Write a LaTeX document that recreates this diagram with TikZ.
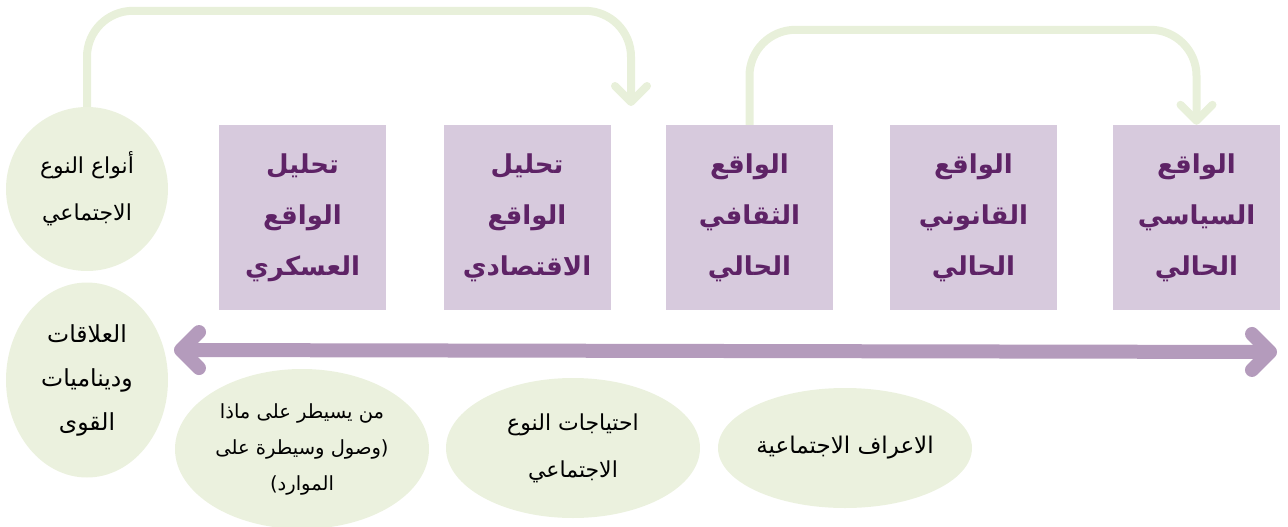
\documentclass[tikz,border=0pt]{standalone}
\usepackage{fontspec}
\newfontfamily\arabicfont[Script=Arabic]{DejaVu Sans}
\TeXXeTstate=1
\usetikzlibrary{arrows.meta,shapes.geometric}
\definecolor{boxfill}{RGB}{215,202,221}
\definecolor{boxtext}{RGB}{94,35,102}
\definecolor{ovalfill}{RGB}{235,241,222}
\definecolor{loopline}{RGB}{232,240,218}
\definecolor{spanline}{RGB}{180,155,188}
\newcommand{\artxt}[1]{\beginR #1\endR}

\begin{document}
\begin{tikzpicture}[x=1pt, y=-1pt,
		realbox/.style={fill=boxfill, text=boxtext, minimum width=167pt, minimum height=185pt, inner sep=0pt, align=center,
			font=\arabicfont\bfseries\fontsize{26}{51}\selectfont},
		oval/.style={ellipse, fill=ovalfill, inner sep=0pt, align=center,
			font=\arabicfont\fontsize{22}{47}\selectfont},
		loop arrow/.style={draw=loopline, line width=8pt, rounded corners=46pt,
			-{Straight Barb[length=16pt, width=32pt, round]}},
		span arrow/.style={draw=spanline, line width=14pt,
			{Straight Barb[length=18pt, width=36pt, round]}-{Straight Barb[length=18pt, width=36pt, round]}}]
	\useasboundingbox (0,0) rectangle (1288,527);
	% the five analysis boxes
	\node[realbox] (askari) at (302.5,217.5) {\artxt{تحليل}\\\artxt{الواقع}\\\artxt{العسكري}};
	\node[realbox] (iqtisadi) at (527,217.5) {\artxt{تحليل}\\\artxt{الواقع}\\\artxt{الاقتصادي}};
	\node[realbox] (thaqafi) at (749.5,217.5) {\artxt{الواقع}\\\artxt{الثقافي}\\\artxt{الحالي}};
	\node[realbox] (qanuni) at (973.5,217.5) {\artxt{الواقع}\\\artxt{القانوني}\\\artxt{الحالي}};
	\node[realbox] (siyasi) at (1196.5,217.5) {\artxt{الواقع}\\\artxt{السياسي}\\\artxt{الحالي}};
	% the ovals
	\node[oval, minimum width=162pt, minimum height=164pt] (anwaa) at (87,189) {\artxt{أنواع النوع}\\\artxt{الاجتماعي}};
	\node[oval, minimum width=162pt, minimum height=195pt, font=\arabicfont\fontsize{23.5}{44}\selectfont] (alaqat) at (87,380) {\artxt{العلاقات}\\\artxt{وديناميات}\\\artxt{القوى}};
	\node[oval, minimum width=254pt, minimum height=160pt, font=\arabicfont\fontsize{19.5}{36}\selectfont] (yusaytir) at (302,449) {\artxt{من يسيطر على ماذا}\\\artxt{(وصول وسيطرة على}\\\artxt{الموارد)}};
	\node[oval, minimum width=254pt, minimum height=140pt] (ihtiyajat) at (573,448) {\artxt{احتياجات النوع}\\\artxt{الاجتماعي}};
	\node[oval, minimum width=254pt, minimum height=120pt, font=\arabicfont\fontsize{23}{47}\selectfont] (aaraf) at (845,448) {\artxt{الاعراف الاجتماعية}};
	% arrows
	\coordinate (tipA) at (631,106);
	\coordinate (spanL) at (174,350);
	\coordinate (spanR) at (1277,352);
	\draw[loop arrow] (anwaa.north) -- ++(0,-96) -| (tipA);
	\draw[loop arrow] (thaqafi.north) -- ++(0,-95) -| (siyasi.north);
	\draw[span arrow] (spanL) -- (spanR);
\end{tikzpicture}
\end{document}
